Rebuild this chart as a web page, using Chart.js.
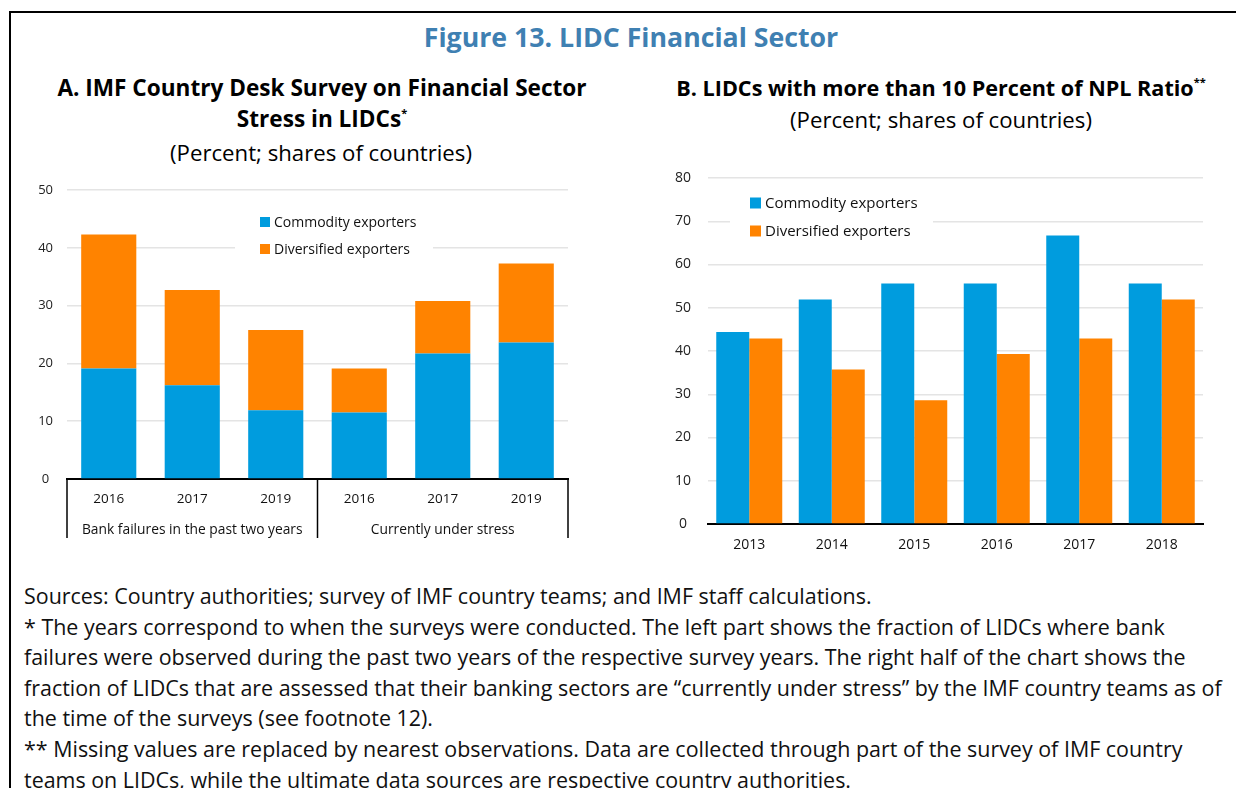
<!DOCTYPE html>
<html>
<head>
<meta charset="utf-8">
<script src="https://cdn.jsdelivr.net/npm/chart.js@4"></script>
<style>
  body { margin: 0; width: 1236px; height: 788px; background: #fff; overflow: hidden; font-family: "Open Sans", sans-serif; color: #000; }
  .frame { position: absolute; left: 9px; top: 11px; width: 1240px; height: 800px; border-top: 2px solid #000; border-left: 2px solid #000; }
  .t { position: absolute; transform: translate(-50%, -50%); white-space: nowrap; }
  .fig { font-weight: bold; font-size: 26.7px; color: #3f80b2; }
  .pt { font-weight: bold; font-size: 22.6px; }
  .ptb { font-weight: bold; font-size: 21.6px; }
  .sub { font-size: 22.2px; }
  sup { font-size: 11px; vertical-align: 10px; }
  #foot { position: absolute; left: 24px; top: 581px; font-size: 21.45px; line-height: 30.6px; white-space: nowrap; color: #111; }
  canvas { position: absolute; }
</style>
</head>
<body>
<div class="frame"></div>
<div class="t fig" style="left:631px; top:36px;">Figure 13. LIDC Financial Sector</div>
<div class="t pt" style="left:322px; top:87px;">A. IMF Country Desk Survey on Financial Sector</div>
<div class="t pt" style="left:322px; top:118px;">Stress in LIDCs<sup>*</sup></div>
<div class="t sub" style="left:321px; top:152px;">(Percent; shares of countries)</div>
<div class="t ptb" style="left:941px; top:87px;">B. LIDCs with more than 10 Percent of NPL Ratio<sup>**</sup></div>
<div class="t sub" style="left:941px; top:119px;">(Percent; shares of countries)</div>

<canvas id="chartA" width="560" height="370" style="left:20px; top:175px;"></canvas>
<canvas id="chartB" width="570" height="395" style="left:650px; top:165px;"></canvas>

<div id="foot">Sources: Country authorities; survey of IMF country teams; and IMF staff calculations.<br>
* The years correspond to when the surveys were conducted. The left part shows the fraction of LIDCs where bank<br>
failures were observed during the past two years of the respective survey years. The right half of the chart shows the<br>
fraction of LIDCs that are assessed that their banking sectors are “currently under stress” by the IMF country teams as of<br>
the time of the surveys (see footnote 12).<br>
** Missing values are replaced by nearest observations. Data are collected through part of the survey of IMF country<br>
teams on LIDCs, while the ultimate data sources are respective country authorities.</div>

<script>
// Panel A data (stacked)
const surveyYears = ['2016', '2017', '2019', '2016', '2017', '2019'];
const surveyGroups = ['Bank failures in the past two years', 'Currently under stress'];
const surveyCommodity = [19.1, 16.2, 11.9, 11.5, 21.7, 23.6];
const surveyDiversified = [23.2, 16.5, 13.9, 7.6, 9.1, 13.7];
const surveyTicks = [0, 10, 20, 30, 40, 50];

// Panel B data (grouped)
const nplYears = ['2013', '2014', '2015', '2016', '2017', '2018'];
const nplCommodity = [44.4, 51.9, 55.6, 55.6, 66.7, 55.6];
const nplDiversified = [42.9, 35.7, 28.6, 39.3, 42.9, 51.9];
const nplTicks = [0, 10, 20, 30, 40, 50, 60, 70, 80];

const BLUE = '#009CDE';
const ORANGE = '#FF8300';
const FONT = '"Open Sans", sans-serif';

Chart.defaults.font.family = FONT;
Chart.defaults.color = '#222';
Chart.defaults.animation = false;

// legend drawn inside the plot, on a white patch that hides the grid behind it
const boxLegend = {
    id: 'boxLegend',
    afterDatasetsDraw(chart, args, opts) {
        const ctx = chart.ctx;
        ctx.save();
        ctx.fillStyle = '#fff';
        ctx.fillRect(opts.clearLeft, opts.clearTop, opts.clearRight - opts.clearLeft, opts.clearBottom - opts.clearTop);
        ctx.font = opts.fontSize + 'px ' + FONT;
        ctx.textBaseline = 'middle';
        chart.data.datasets.forEach((ds, i) => {
            const cy = opts.y + i * opts.rowGap;
            ctx.fillStyle = ds.backgroundColor;
            ctx.fillRect(opts.x, cy - opts.box / 2, opts.box, opts.box);
            ctx.fillStyle = '#111';
            ctx.fillText(ds.label, opts.x + opts.box + 4, cy + 1);
        });
        ctx.restore();
    }
};

// vertical separators of the two-level category axis on panel A
const groupFrame = {
    id: 'groupFrame',
    afterDraw(chart, args, opts) {
        if (!opts.on) return;
        const x = chart.scales.x;
        const area = chart.chartArea;
        const mid = (x.getPixelForValue(2) + x.getPixelForValue(3)) / 2;
        const ctx = chart.ctx;
        ctx.save();
        ctx.strokeStyle = '#000';
        ctx.lineWidth = 1.5;
        [area.left, mid, area.right].forEach(px => {
            ctx.beginPath();
            ctx.moveTo(px, area.bottom);
            ctx.lineTo(px, opts.bottom);
            ctx.stroke();
        });
        ctx.restore();
    }
};

function fixedTicks(values) {
    return function (scale) {
        scale.ticks = values.map(v => ({ value: v }));
    };
}

// fixed y-axis width, and no extra room above the top tick
function yFit(width) {
    return function (scale) {
        scale.width = width;
        scale.paddingTop = 0;
        scale.paddingBottom = 0;
    };
}

new Chart(document.getElementById('chartA'), {
    type: 'bar',
    data: {
        labels: surveyYears,
        datasets: [
            { label: 'Commodity exporters', data: surveyCommodity, backgroundColor: BLUE },
            { label: 'Diversified exporters', data: surveyDiversified, backgroundColor: ORANGE }
        ]
    },
    options: {
        responsive: false,
        layout: { padding: { top: 15, right: 12, left: 0, bottom: 0 } },
        datasets: { bar: { categoryPercentage: 0.66, barPercentage: 1 } },
        plugins: {
            legend: { display: false },
            tooltip: { enabled: false },
            boxLegend: { x: 240, y: 47, rowGap: 27, box: 10, fontSize: 14,
                         clearLeft: 215, clearRight: 413, clearTop: 35, clearBottom: 88 },
            groupFrame: { on: true, bottom: 363 }
        },
        scales: {
            x: {
                stacked: true,
                grid: { display: false, drawTicks: false },
                border: { display: true, color: '#000', width: 2 },
                ticks: { padding: 12, font: { size: 13.5 }, color: '#111' },
                afterFit: s => { s.height = 35; }
            },
            x2: {
                type: 'category',
                labels: surveyGroups,
                position: 'bottom',
                weight: 1,
                offset: true,
                grid: { display: false, drawTicks: false },
                border: { display: false },
                ticks: { padding: 8, font: { size: 13.8 }, color: '#111' },
                afterFit: s => { s.height = 31; }
            },
            y: {
                stacked: true,
                min: 0,
                max: 50,
                afterBuildTicks: fixedTicks(surveyTicks),
                grid: { color: '#e4e4e4', lineWidth: 1.5, drawTicks: false },
                border: { display: false },
                ticks: { padding: 14, crossAlign: 'center', font: { size: 13 }, color: '#222' },
                afterFit: yFit(47)
            }
        }
    },
    plugins: [boxLegend, groupFrame]
});

new Chart(document.getElementById('chartB'), {
    type: 'bar',
    data: {
        labels: nplYears,
        datasets: [
            { label: 'Commodity exporters', data: nplCommodity, backgroundColor: BLUE },
            { label: 'Diversified exporters', data: nplDiversified, backgroundColor: ORANGE }
        ]
    },
    options: {
        responsive: false,
        layout: { padding: { top: 13, right: 17, left: 0, bottom: 0 } },
        datasets: { bar: { categoryPercentage: 0.8, barPercentage: 1 } },
        plugins: {
            legend: { display: false },
            tooltip: { enabled: false },
            boxLegend: { x: 100, y: 38, rowGap: 28, box: 11, fontSize: 15,
                         clearLeft: 80, clearRight: 283, clearTop: 24, clearBottom: 80 },
            groupFrame: { on: false }
        },
        scales: {
            x: {
                grid: { display: false, drawTicks: false },
                border: { display: true, color: '#000', width: 2 },
                ticks: { padding: 13, font: { size: 14 }, color: '#111' },
                afterFit: s => { s.height = 36; }
            },
            y: {
                min: 0,
                max: 80,
                afterBuildTicks: fixedTicks(nplTicks),
                grid: { color: '#e4e4e4', lineWidth: 1.5, drawTicks: false },
                border: { display: false },
                ticks: { padding: 17, crossAlign: 'center', font: { size: 14 }, color: '#222' },
                afterFit: yFit(58)
            }
        }
    },
    plugins: [boxLegend, groupFrame]
});
</script>
</body>
</html>
